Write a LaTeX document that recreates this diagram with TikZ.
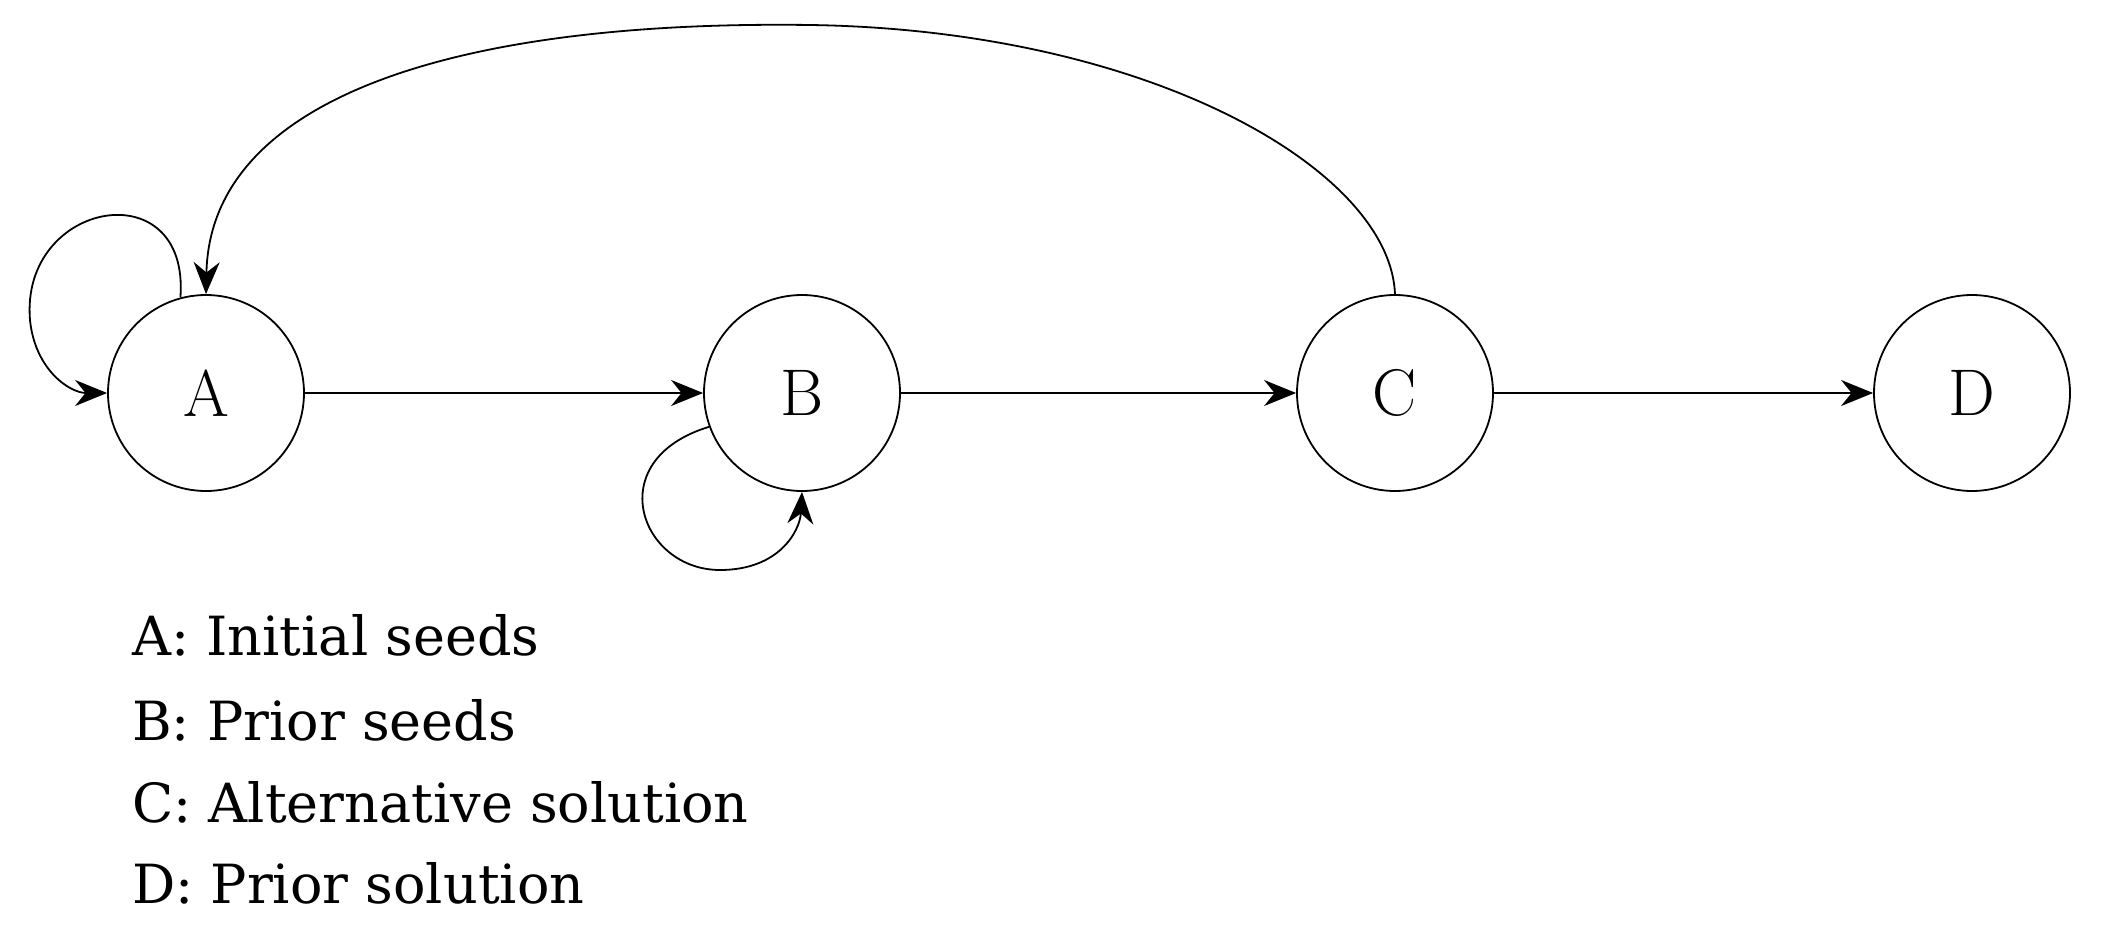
\documentclass[tikz,border=0pt]{standalone}
\usepackage{fontspec}
\newfontfamily\labfont{DejaVu Serif}
\usetikzlibrary{arrows.meta}
\begin{document}
\begin{tikzpicture}[x=1pt,y=-1pt,
  st/.style={circle,draw,line width=1.8pt,minimum size=196pt,inner sep=0pt,font=\fontsize{66}{70}\selectfont},
  ar/.style={line width=1.8pt,-{Stealth[length=32pt,width=26pt]}},
  lab/.style={anchor=base west,inner sep=0pt,font=\labfont\fontsize{54}{70}\selectfont}]
\useasboundingbox (0,0) rectangle (2102,931);
\node[st] (A) at (206,393) {A};
\node[st] (B) at (802,393) {B};
\node[st] (C) at (1395,393) {C};
\node[st] (D) at (1972,393) {D};
\draw[ar] (A) -- (B);
\draw[ar] (B) -- (C);
\draw[ar] (C) -- (D);
\draw[ar] (A.105) .. controls (190,170) and (20,200) .. (30,320) .. controls (35,370) and (70,393) .. (A.west);
\draw[ar] (C.north) .. controls (1390,170) and (1150,30) .. (810,25) .. controls (450,20) and (210,100) .. (A.north);
\draw[ar] (B.200) .. controls (600,460) and (640,570) .. (720,570) .. controls (780,570) and (800,530) .. (B.south);
\node[lab] (t1) at (132,655) {A: Initial seeds};
\node[lab] (t2) at (132,740) {B: Prior seeds};
\node[lab] (t3) at (132,822) {C: Alternative solution};
\node[lab] (t4) at (132,903) {D: Prior solution};
\end{tikzpicture}
\end{document}
